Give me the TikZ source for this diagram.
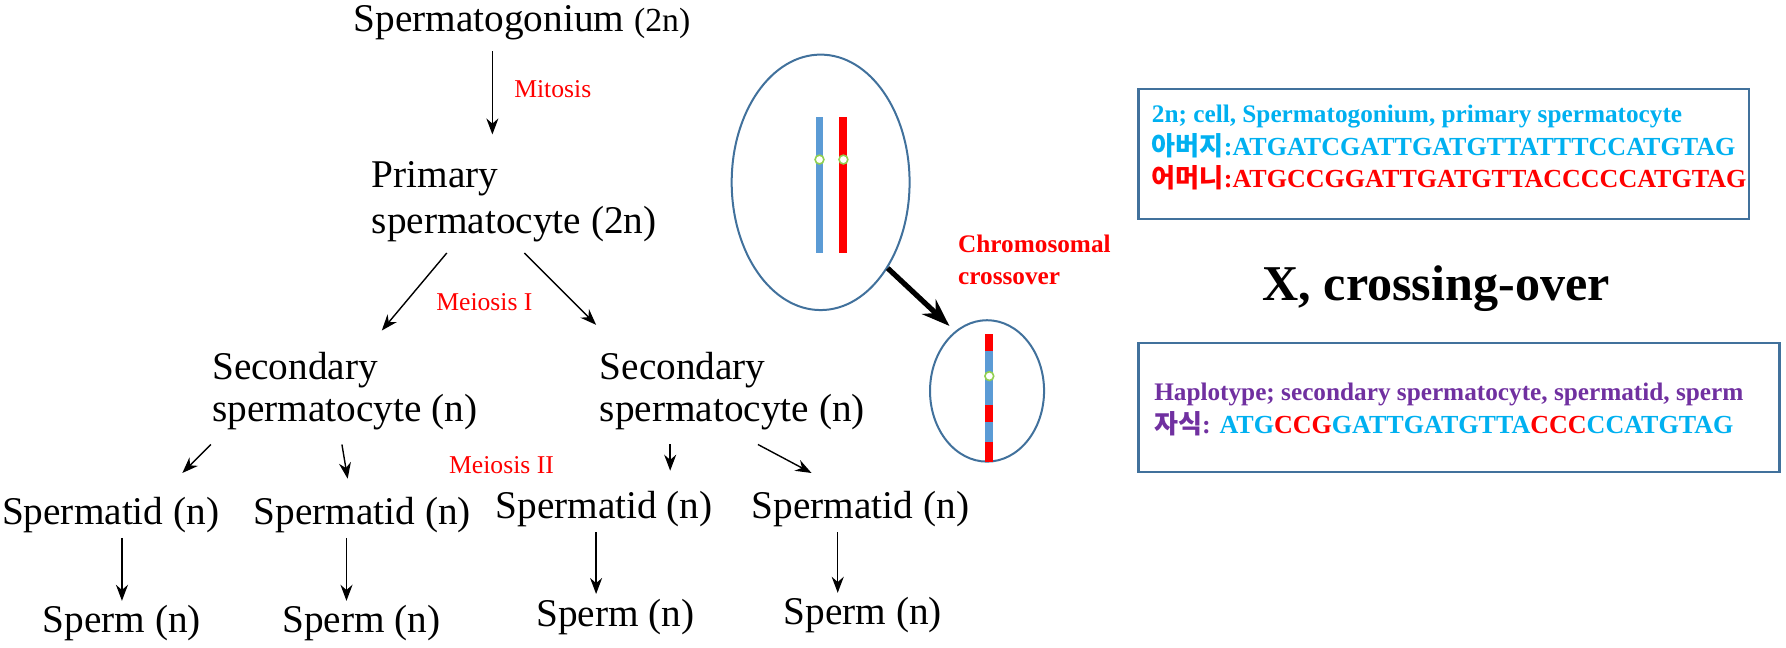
\documentclass[tikz,border=0pt]{standalone}
\usepackage{fontspec}
\setmainfont{Liberation Serif}
\newfontfamily\kor{Noto Sans CJK KR}
\usetikzlibrary{arrows.meta, positioning, shapes.geometric}
\definecolor{markRed}{RGB}{255, 0, 0}
\definecolor{fatherBlue}{RGB}{0, 176, 240}
\definecolor{chromBlue}{RGB}{91, 155, 213}
\definecolor{childPurple}{RGB}{112, 48, 160}
\definecolor{frameBlue}{RGB}{65, 113, 156}
\definecolor{centroGreen}{RGB}{146, 208, 80}
\tikzset{
    % Cell stage labels
    stage/.style={font=\fontsize{9.8}{11.8}\selectfont, inner sep=1pt, align=left},
    % Division labels
    division/.style={font=\fontsize{6.4}{7.5}\selectfont, text=markRed, inner sep=1pt},
    % Arrows
    arrow/.style={-{Stealth[length=4pt,width=3pt]}, line width=0.35pt},
    % Info boxes
    infobox/.style={draw=frameBlue, line width=0.6pt, anchor=north west, minimum width=5.35cm, minimum height=1.14cm},
    infotext/.style={font=\bfseries\fontsize{6.3}{7.5}\selectfont, anchor=west, inner sep=0pt},
    seqtext/.style={font=\bfseries\fontsize{6.5}{7.5}\selectfont, anchor=west, inner sep=0pt},
    cell/.style={draw=frameBlue, line width=0.5pt, ellipse},
    centro/.style={draw=centroGreen, fill=white, circle, inner sep=0pt, minimum size=2.2pt, line width=0.4pt}
}
\begin{document}
\begin{tikzpicture}[x=0.01cm, y=-0.01cm]
    \useasboundingbox (0,0) rectangle (1567,568);

    % --- Lineage tree ---
    \node (gonium) [stage] at (458,20) {Spermatogonium {\fontsize{8.4}{10}\selectfont(2n)}};
    \node (primary) [stage, anchor=west] at (322,157) {Primary};
    \node (primary2) [stage, anchor=west] at (322,197) {spermatocyte (2n)};
    \node (secL) [stage, anchor=west] at (182,325) {Secondary};
    \node (secL2) [stage, anchor=west] at (182,362) {spermatocyte (n)};
    \node (secR) [stage, anchor=west] at (522,325) {Secondary};
    \node (secR2) [stage, anchor=west] at (522,362) {spermatocyte (n)};

    \node (tid1) [stage] at (97,452) {Spermatid (n)};
    \node (tid2) [stage] at (318,452) {Spermatid (n)};
    \node (tid3) [stage] at (530,447) {Spermatid (n)};
    \node (tid4) [stage] at (755,447) {Spermatid (n)};

    \node (sperm1) [stage] at (107,547) {Sperm (n)};
    \node (sperm2) [stage] at (317,547) {Sperm (n)};
    \node (sperm3) [stage] at (540,541) {Sperm (n)};
    \node (sperm4) [stage] at (757,540) {Sperm (n)};

    \node (mitosis) [division] at (485,78) {Mitosis};
    \node (meiosisA) [division] at (425,265) {Meiosis I};
    \node (meiosisB) [division] at (440,408) {Meiosis II};

    % --- Arrow ends ---
    \coordinate (mitA) at (432,45);   \coordinate (mitB) at (432,118);
    \coordinate (mIa) at (392,222);   \coordinate (mIb) at (335,290);
    \coordinate (mIc) at (460,222);   \coordinate (mId) at (523,285);
    \coordinate (mIIa) at (185,390);  \coordinate (mIIb) at (160,415);
    \coordinate (mIIc) at (300,390);  \coordinate (mIId) at (305,420);
    \coordinate (mIIe) at (588,390);  \coordinate (mIIf) at (588,413);
    \coordinate (mIIg) at (665,390);  \coordinate (mIIh) at (712,415);

    % --- Arrows ---
    \draw [arrow] (mitA) -- (mitB);
    \draw [arrow] (mIa) -- (mIb);
    \draw [arrow] (mIc) -- (mId);
    \draw [arrow] (mIIa) -- (mIIb);
    \draw [arrow] (mIIc) -- (mIId);
    \draw [arrow] (mIIe) -- (mIIf);
    \draw [arrow] (mIIg) -- (mIIh);
    \draw [arrow] (tid1.south -| sperm1.north) ++(0,0) -- (sperm1.north);
    \draw [arrow] (tid2.south -| 304,0) -- (sperm2.north -| 304,0);
    \draw [arrow] (tid3.south -| 523,0) -- (sperm3.north -| 523,0);
    \draw [arrow] (tid4.south -| 735,0) -- (sperm4.north -| 735,0);

    % --- Chromosomes before crossover ---
    \node (cellA) [cell, minimum width=1.56cm, minimum height=2.24cm] at (720,160) {};
    \fill [chromBlue] (715.5,103) rectangle (722.5,222);
    \fill [markRed] (736.5,103) rectangle (743.5,222);
    \node [centro] at (719,140) {};
    \node [centro] at (740,140) {};

    % --- Chromosome after crossover ---
    \node (cellB) [cell, minimum width=1.0cm, minimum height=1.24cm] at (866,343) {};
    \fill [markRed] (864.5,293) rectangle (871.5,308);
    \fill [chromBlue] (864.5,308) rectangle (871.5,355);
    \fill [markRed] (864.5,355) rectangle (871.5,370);
    \fill [chromBlue] (864.5,370) rectangle (871.5,388);
    \fill [markRed] (864.5,388) rectangle (871.5,405);
    \node [centro] at (868,330) {};

    \coordinate (crossEnd) at (833,286);
    \draw [-{Stealth[length=7pt,width=5pt]}, line width=1.3pt] (cellA.-52) -- (crossEnd);
    \node (crossLabel) [font=\bfseries\fontsize{6.3}{8}\selectfont, text=markRed, align=left, anchor=west, inner sep=0pt] at (840,228) {Chromosomal\\crossover};

    % --- Sequence boxes ---
    \node (boxParent) [infobox] at (998,77) {};
    \node (lineA) [infotext, text=fatherBlue] at (1010,102) {2n; cell, Spermatogonium, primary spermatocyte};
    \node (lineB) [seqtext, text=fatherBlue] at (1010,128) {{\kor 아버지}:ATGATCGATTGATGTTATTTCCATGTAG};
    \node (lineC) [seqtext, text=markRed] at (1010,156) {{\kor 어머니}:ATGCCGGATTGATGTTACCCCCATGTAG};

    \node (title) [font=\bfseries\fontsize{12.5}{14}\selectfont] at (1260,253) {X, crossing-over};

    \node (boxChild) [infobox, minimum width=5.62cm, minimum height=1.13cm] at (998,300) {};
    \node (lineD) [infotext, text=childPurple] at (1012,346) {Haplotype; secondary spermatocyte, spermatid, sperm};
    \node (lineE) [seqtext, text=fatherBlue] at (1012,372) {\textcolor{childPurple}{{\kor 자식}:} ATG\textcolor{markRed}{CCG}GATTGATGTTA\textcolor{markRed}{CCC}CCATGTAG};
\end{tikzpicture}
\end{document}
